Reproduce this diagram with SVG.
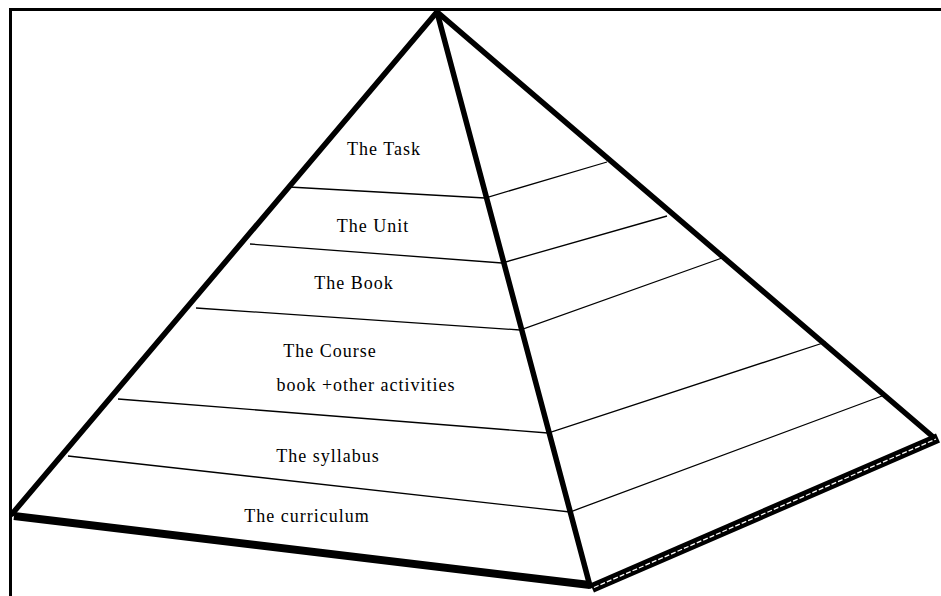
<svg xmlns="http://www.w3.org/2000/svg" width="941" height="596" viewBox="0 0 941 596">
<style>
.frame{fill:none;stroke:#000;stroke-width:3}
.edge{fill:none;stroke:#000;stroke-width:5.5;stroke-linecap:round}
.div{fill:none;stroke:#000;stroke-width:1.3}
.lbl{font-family:"Liberation Serif","Times New Roman",serif;font-size:18px;letter-spacing:1px;fill:#000;text-anchor:middle}
</style>
<rect width="941" height="596" fill="#fff"/>
<g id="frame">
<path class="frame" d="M10.5,596 V9.5 H941"/>
</g>
<g id="connectors">
<path class="div" d="M289,187 L485,198 L607,162"/>
<path class="div" d="M250,244 L502,263 L667,216"/>
<path class="div" d="M196,308 L520,330 L722,258"/>
<path class="div" d="M118,399 L548,433 L826,342"/>
<path class="div" d="M68,456 L570,512 L882,396"/>
</g>
<g id="pyramid">
<path class="edge" d="M12,514 L437,12 L932,436"/>
<path class="edge" d="M437,12 L590,586"/>
<path fill="none" stroke="#000" stroke-width="8" d="M14,516 L590,585"/>
<path fill="none" stroke="#000" stroke-width="10" d="M592,588 L938,438"/>
<path fill="none" stroke="#fff" stroke-width="1.3" stroke-dasharray="5,2" d="M594,587.5 L936,439"/>
</g>
<g id="task"><text class="lbl" x="384" y="155">The Task</text></g>
<g id="unit"><text class="lbl" x="373" y="232">The Unit</text></g>
<g id="book"><text class="lbl" x="354" y="289">The Book</text></g>
<g id="course"><text class="lbl" x="330" y="357">The Course</text><text class="lbl" x="366" y="391">book +other activities</text></g>
<g id="syllabus"><text class="lbl" x="328" y="462">The syllabus</text></g>
<g id="curriculum"><text class="lbl" x="307" y="522">The curriculum</text></g>
</svg>
